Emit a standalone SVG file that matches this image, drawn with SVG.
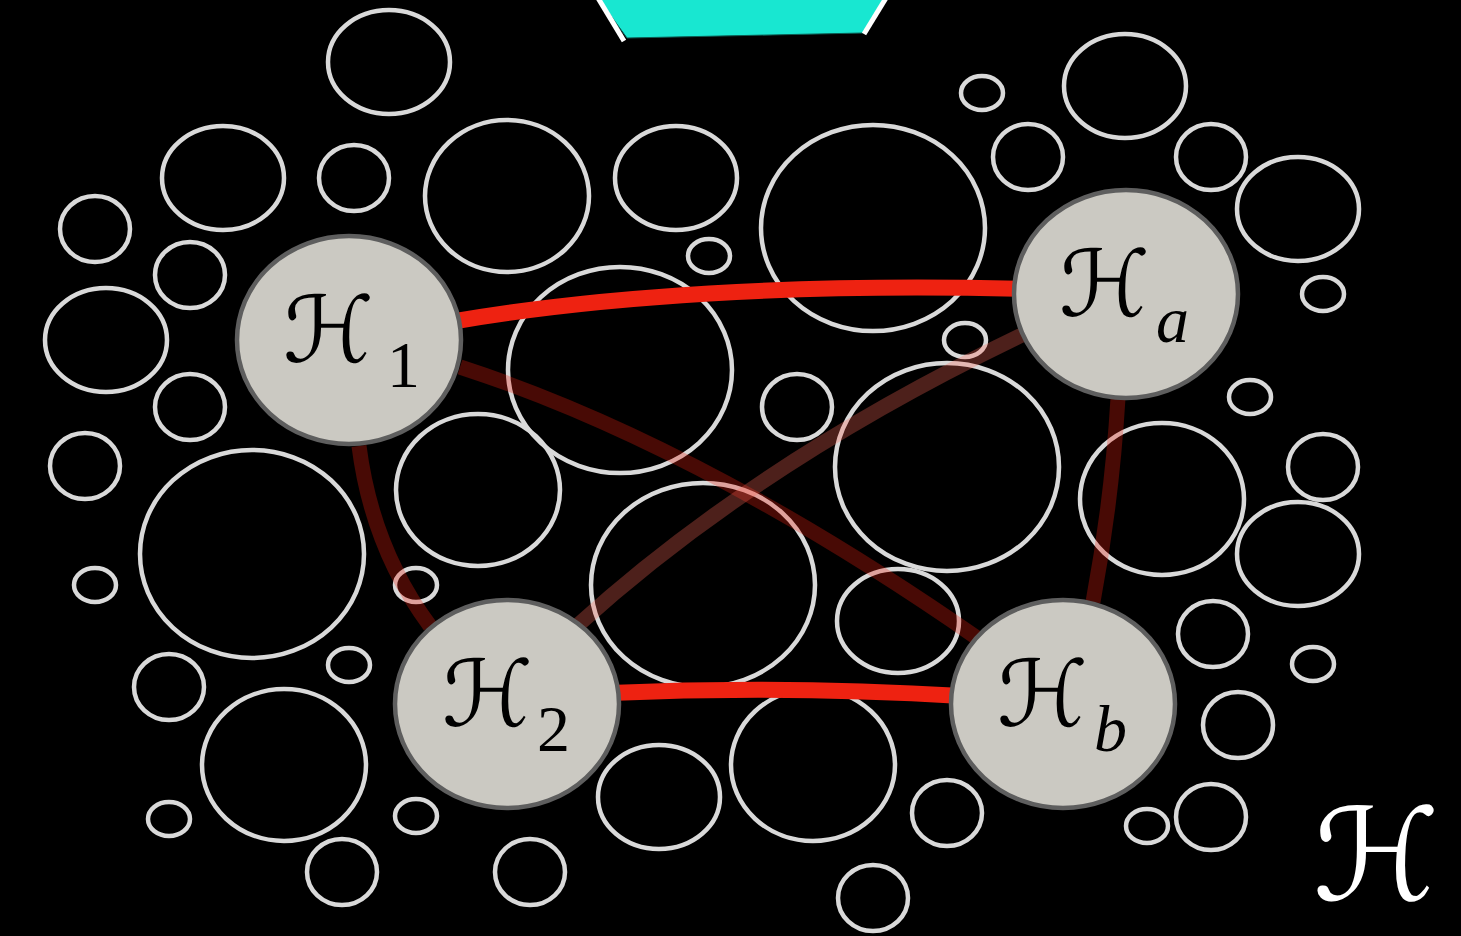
<svg xmlns="http://www.w3.org/2000/svg" width="1461" height="936" viewBox="0 0 1461 936">
<style>
.bub{fill:none;stroke:#d9d9d9;stroke-width:4.5}
.node ellipse{fill:#cbc9c2;stroke:#5e5e5e;stroke-width:4.5}
.scr{font-family:"DejaVu Serif","DejaVu Sans",serif;font-style:italic;font-size:92px;fill:#000}
.hot{fill:none;stroke:#ee2211;stroke-width:16}
.dim{fill:none;stroke:#ee2211;stroke-opacity:0.3;stroke-width:15}
.dim2{fill:none;stroke:#ff6a5a;stroke-opacity:0.3;stroke-width:15}
</style>
<rect x="0" y="0" width="1461" height="936" fill="#000"/>
<g id="top-shape">
<polygon points="596,-5 627,38 863,33 887,-5" fill="#18e7d1" stroke="#0b5c52" stroke-width="1"/>
<line x1="598" y1="-2" x2="624" y2="41" stroke="#fff" stroke-width="5"/>
<line x1="886" y1="-2" x2="864" y2="34" stroke="#fff" stroke-width="5"/>
</g>
<g id="bubbles">
<ellipse class="bub" cx="389" cy="62" rx="61" ry="52"/>
<ellipse class="bub" cx="223" cy="178" rx="61" ry="52"/>
<ellipse class="bub" cx="354" cy="178" rx="35" ry="33"/>
<ellipse class="bub" cx="507" cy="196" rx="82" ry="76"/>
<ellipse class="bub" cx="676" cy="178" rx="61" ry="52"/>
<ellipse class="bub" cx="873" cy="228" rx="112" ry="103"/>
<ellipse class="bub" cx="982" cy="93" rx="21" ry="17"/>
<ellipse class="bub" cx="1125" cy="86" rx="61" ry="52"/>
<ellipse class="bub" cx="1028" cy="157" rx="35" ry="33"/>
<ellipse class="bub" cx="1211" cy="157" rx="35" ry="33"/>
<ellipse class="bub" cx="1298" cy="209" rx="61" ry="52"/>
<ellipse class="bub" cx="95" cy="229" rx="35" ry="33"/>
<ellipse class="bub" cx="190" cy="275" rx="35" ry="33"/>
<ellipse class="bub" cx="709" cy="256" rx="21" ry="17"/>
<ellipse class="bub" cx="106" cy="340" rx="61" ry="52"/>
<ellipse class="bub" cx="620" cy="370" rx="112" ry="103"/>
<ellipse class="bub" cx="190" cy="407" rx="35" ry="33"/>
<ellipse class="bub" cx="965" cy="340" rx="21" ry="17"/>
<ellipse class="bub" cx="1323" cy="294" rx="21" ry="17"/>
<ellipse class="bub" cx="797" cy="407" rx="35" ry="33"/>
<ellipse class="bub" cx="947" cy="467" rx="112" ry="104"/>
<ellipse class="bub" cx="1250" cy="397" rx="21" ry="17"/>
<ellipse class="bub" cx="85" cy="466" rx="35" ry="33"/>
<ellipse class="bub" cx="478" cy="490" rx="82" ry="76"/>
<ellipse class="bub" cx="1162" cy="499" rx="82" ry="76"/>
<ellipse class="bub" cx="1323" cy="467" rx="35" ry="33"/>
<ellipse class="bub" cx="252" cy="554" rx="112" ry="104"/>
<ellipse class="bub" cx="703" cy="585" rx="112" ry="102"/>
<ellipse class="bub" cx="95" cy="585" rx="21" ry="17"/>
<ellipse class="bub" cx="416" cy="585" rx="21" ry="17"/>
<ellipse class="bub" cx="898" cy="621" rx="61" ry="52"/>
<ellipse class="bub" cx="1298" cy="554" rx="61" ry="52"/>
<ellipse class="bub" cx="1213" cy="634" rx="35" ry="33"/>
<ellipse class="bub" cx="169" cy="687" rx="35" ry="33"/>
<ellipse class="bub" cx="349" cy="665" rx="21" ry="17"/>
<ellipse class="bub" cx="1313" cy="664" rx="21" ry="17"/>
<ellipse class="bub" cx="284" cy="765" rx="82" ry="76"/>
<ellipse class="bub" cx="659" cy="797" rx="61" ry="52"/>
<ellipse class="bub" cx="813" cy="765" rx="82" ry="76"/>
<ellipse class="bub" cx="1238" cy="725" rx="35" ry="33"/>
<ellipse class="bub" cx="169" cy="819" rx="21" ry="17"/>
<ellipse class="bub" cx="416" cy="816" rx="21" ry="17"/>
<ellipse class="bub" cx="342" cy="872" rx="35" ry="33"/>
<ellipse class="bub" cx="530" cy="872" rx="35" ry="33"/>
<ellipse class="bub" cx="947" cy="813" rx="35" ry="33"/>
<ellipse class="bub" cx="1147" cy="826" rx="21" ry="17"/>
<ellipse class="bub" cx="1211" cy="817" rx="35" ry="33"/>
<ellipse class="bub" cx="873" cy="898" rx="35" ry="33"/>
</g>
<g id="connectors">
<path class="hot" d="M450,322 C600,296 800,283 1025,289"/>
<path class="hot" d="M610,693 Q785,685 962,696"/>
<path class="dim" d="M460,367 Q700,445 980,640"/>
<path class="dim2" d="M578,625 Q760,460 1024,334"/>
<path class="dim" d="M359,446 Q372,548 430,626"/>
<path class="dim" d="M1118,398 Q1112,500 1093,602"/>
</g>
<g id="node-H1" class="node">
<ellipse cx="349" cy="340" rx="112" ry="104"/>
<text class="scr" x="283" y="362">ℋ</text>
<text x="387" y="387" font-family="Liberation Serif, Times New Roman, serif" font-size="66" fill="#000">1</text>
</g>
<g id="node-Ha" class="node">
<ellipse cx="1126" cy="294" rx="112" ry="104"/>
<text class="scr" x="1059" y="316">ℋ</text>
<text x="1156" y="342" font-family="Liberation Serif, Times New Roman, serif" font-style="italic" font-size="66" fill="#000">a</text>
</g>
<g id="node-H2" class="node">
<ellipse cx="507" cy="704" rx="112" ry="104"/>
<text class="scr" x="442" y="726">ℋ</text>
<text x="537" y="751" font-family="Liberation Serif, Times New Roman, serif" font-size="66" fill="#000">2</text>
</g>
<g id="node-Hb" class="node">
<ellipse cx="1063" cy="704" rx="112" ry="104"/>
<text class="scr" x="997" y="726">ℋ</text>
<text x="1094" y="751" font-family="Liberation Serif, Times New Roman, serif" font-style="italic" font-size="66" fill="#000">b</text>
</g>
<g id="corner-label">
<text class="scr" x="1313" y="900" style="fill:#fff;font-size:128px">ℋ</text>
</g>
</svg>
